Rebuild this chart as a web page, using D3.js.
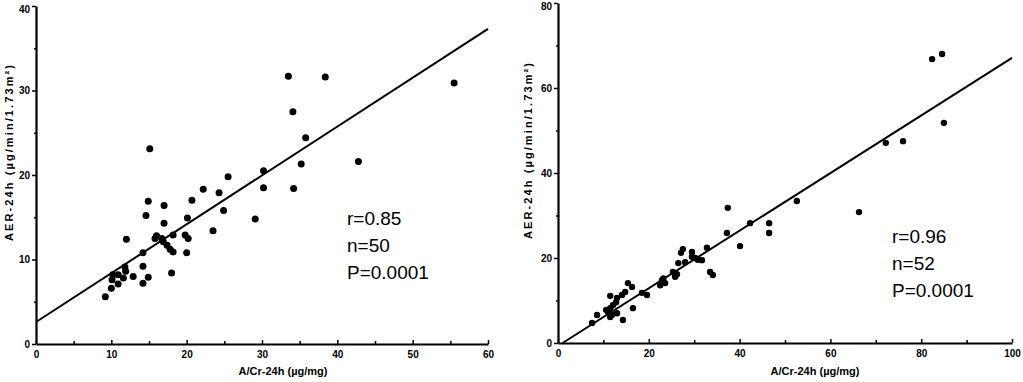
<!DOCTYPE html>
<html>
<head>
<meta charset="utf-8">
<script src="https://cdn.jsdelivr.net/npm/d3@7"></script>
<style>
body { margin: 0; background: #fff; }
.axis path, .axis line { stroke: #000; }
.axis path { stroke-width: 2.2; }
.axis line { stroke-width: 1.5; }
.axis text { font: bold 10px "Liberation Sans", Arial, sans-serif; fill: #000; }
.title { font: bold 11px "Liberation Sans", Arial, sans-serif; fill: #000; }
.stat { font: 19px "Liberation Sans", Arial, sans-serif; fill: #000; }
</style>
</head>
<body>
<div id="chart"></div>
<script>
// left panel: A/Cr-24h vs AER-24h
var leftX = [15.1, 25.5, 22.2, 33.5, 38.4, 34.1, 35.8, 35.2, 42.8, 55.5,
    30.2, 30.2, 34.2, 29.1, 14.9, 17.0, 20.7, 24.3, 24.9, 14.6,
    17.0, 20.1, 23.5, 12.0, 15.8, 16.7, 16.9, 17.4, 18.2, 19.8,
    20.2, 18.2, 20.0, 14.2, 14.2, 11.8, 11.9, 18.0, 14.9, 12.9,
    14.2, 10.2, 10.9, 11.6, 10.1, 10.9, 10.0, 9.2, 16.0, 17.8];
var leftY = [23.1, 19.8, 18.3, 31.7, 31.6, 27.5, 24.4, 21.3, 21.6, 30.9,
    20.5, 18.5, 18.4, 14.8, 16.9, 16.4, 17.0, 17.9, 15.8, 15.2,
    14.3, 14.9, 13.4, 12.4, 12.5, 12.5, 12.1, 11.7, 12.9, 12.9,
    12.5, 10.9, 10.8, 10.8, 9.2, 9.1, 8.6, 8.4, 7.9, 8.0,
    7.2, 8.2, 8.2, 7.8, 7.6, 7.1, 6.6, 5.6, 12.8, 11.2];
var leftFit = [[0, 2.6], [60, 37.3]];
var leftXTicks = [0, 10, 20, 30, 40, 50, 60];
var leftYTicks = [0, 10, 20, 30, 40];
var leftStats = ["r=0.85", "n=50", "P=0.0001"];

// right panel
var rightX = [37.4, 37.2, 42.3, 40.1, 46.5, 46.5, 32.8, 27.5, 27.1, 29.5,
    30.2, 31.7, 29.5, 26.5, 33.5, 34.1, 25.3, 26.2, 25.8, 22.9,
    23.6, 22.5, 15.4, 16.3, 14.8, 14.1, 11.5, 13.0, 18.5, 19.6,
    11.5, 12.1, 11.0, 11.9, 13.0, 11.5, 14.3, 16.5, 8.6, 7.5,
    72.2, 76.0, 82.4, 84.6, 85.0, 52.6, 66.3, 28.0, 30.8, 12.8,
    10.6, 23.2];
var rightY = [31.8, 25.9, 28.2, 22.8, 28.2, 25.9, 22.4, 22.1, 21.2, 21.4,
    20.0, 19.5, 20.3, 18.8, 16.7, 16.0, 16.7, 16.2, 15.6, 14.8,
    14.1, 13.6, 14.1, 13.2, 12.0, 11.3, 11.1, 10.6, 11.8, 11.3,
    8.2, 8.9, 7.3, 6.6, 7.0, 6.1, 5.4, 8.2, 6.6, 4.7,
    47.1, 47.5, 66.8, 68.0, 51.8, 33.4, 30.8, 19.0, 19.6, 9.6,
    7.8, 15.2];
var rightFit = [[1, 0], [100, 67.1]];
var rightXTicks = [0, 20, 40, 60, 80, 100];
var rightYTicks = [0, 20, 40, 60, 80];
var rightStats = ["r=0.96", "n=52", "P=0.0001"];

var xTitle = "A/Cr-24h (µg/mg)";
var yTitle = "AER-24h  (µg/min/1.73m²)";

var svg = d3.select("#chart").append("svg")
    .attr("width", 1023)
    .attr("height", 382);

function drawPanel(p) {
    var x = d3.scaleLinear().domain(p.xDomain).range(p.xRange),
        y = d3.scaleLinear().domain(p.yDomain).range(p.yRange);

    var g = svg.append("g");

    // minor ticks halfway between the labelled ones
    var xMinor = p.xTicks.slice(1).map(function (d, i) { return (d + p.xTicks[i]) / 2; });
    var yMinor = p.yTicks.slice(1).map(function (d, i) { return (d + p.yTicks[i]) / 2; });

    g.append("g")
        .attr("class", "axis")
        .attr("transform", "translate(0," + p.yRange[0] + ")")
        .call(d3.axisBottom(x).tickValues(xMinor).tickFormat("").tickSizeInner(-3).tickSizeOuter(0))
        .select(".domain").remove();
    g.append("g")
        .attr("class", "axis")
        .attr("transform", "translate(" + p.xRange[0] + ",0)")
        .call(d3.axisLeft(y).tickValues(yMinor).tickFormat("").tickSizeInner(2).tickSizeOuter(0))
        .select(".domain").remove();

    g.append("g")
        .attr("class", "axis")
        .attr("transform", "translate(0," + p.yRange[0] + ")")
        .call(d3.axisBottom(x).tickValues(p.xTicks).tickSizeInner(-4).tickSizeOuter(0).tickPadding(7));

    var topTick = p.yTicks[p.yTicks.length - 1];
    g.append("g")
        .attr("class", "axis")
        .attr("transform", "translate(" + p.xRange[0] + ",0)")
        .call(d3.axisLeft(y).tickValues(p.yTicks).tickSizeInner(4).tickSizeOuter(0).tickPadding(2))
        .selectAll("text")
        .attr("dy", function (d) { return d === topTick ? "0.62em" : "0.32em"; });

    var pts = p.xs.map(function (d, i) { return { x: d, y: p.ys[i] }; });

    g.selectAll(".dot")
        .data(pts)
        .enter().append("circle")
        .attr("class", "dot")
        .attr("cx", function (d) { return x(d.x); })
        .attr("cy", function (d) { return y(d.y); })
        .attr("r", p.r)
        .style("fill", "#000");

    var line = d3.line()
        .x(function (d) { return x(d[0]); })
        .y(function (d) { return y(d[1]); });

    g.append("path")
        .attr("d", line(p.fit))
        .style("fill", "none")
        .style("stroke", "#000")
        .style("stroke-width", 2);

    g.selectAll(".stat")
        .data(p.stats)
        .enter().append("text")
        .attr("class", "stat")
        .attr("x", p.statPos[0])
        .attr("y", function (d, i) { return p.statPos[1] + i * 27; })
        .text(function (d) { return d; });

    g.append("text")
        .attr("class", "title")
        .attr("x", p.xTitlePos[0])
        .attr("y", p.xTitlePos[1])
        .attr("text-anchor", "middle")
        .text(xTitle);

    g.append("text")
        .attr("class", "title")
        .attr("transform", "translate(" + p.yTitlePos[0] + "," + p.yTitlePos[1] + ") rotate(-90)")
        .attr("text-anchor", "middle")
        .attr("textLength", 176)
        .text(yTitle);
}

drawPanel({
    xs: leftX, ys: leftY, fit: leftFit,
    xDomain: [0, 60], xRange: [36, 488],
    yDomain: [0, 40], yRange: [344, 6],
    xTicks: leftXTicks, yTicks: leftYTicks,
    r: 3.5,
    stats: leftStats, statPos: [347, 225],
    xTitlePos: [283, 375], yTitlePos: [13, 153]
});

drawPanel({
    xs: rightX, ys: rightY, fit: rightFit,
    xDomain: [0, 100], xRange: [558, 1012],
    yDomain: [0, 80], yRange: [343, 3],
    xTicks: rightXTicks, yTicks: rightYTicks,
    r: 3.2,
    stats: rightStats, statPos: [892, 243],
    xTitlePos: [815, 375], yTitlePos: [532, 151]
});
</script>
</body>
</html>
